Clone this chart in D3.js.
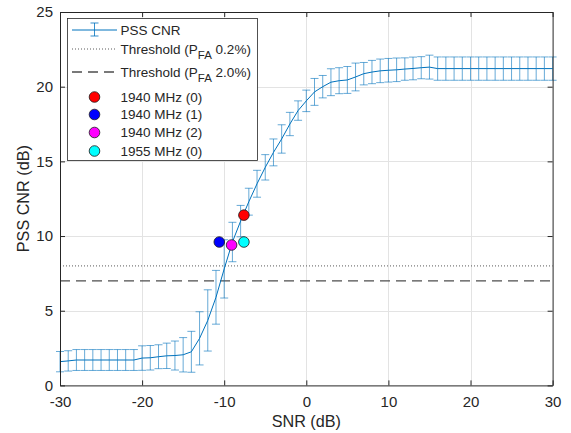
<!DOCTYPE html>
<html>
<head>
<meta charset="utf-8">
<script src="https://cdn.jsdelivr.net/npm/d3@7"></script>
<style>
  html, body { margin: 0; padding: 0; background: #ffffff; }
  svg { display: block; }
  text { font-family: "Liberation Sans", Arial, Helvetica, sans-serif; fill: #262626; }
</style>
</head>
<body>
<svg id="chart" width="571" height="433"></svg>
<script>
// SNR sweep (dB) and PSS CNR statistics (mean and one-sided error-bar half-width, dB)
const snr = d3.range(-30, 31, 1);
const cnrMean = [
  1.59, 1.64, 1.70, 1.70, 1.70, 1.70, 1.70, 1.70, 1.70, 1.70,   // -30 .. -21
  1.83, 1.85, 1.92, 1.98, 2.00, 2.05, 2.25, 3.15, 4.35, 5.90,   // -20 .. -11
  7.80, 9.60, 11.00, 12.30, 13.50, 14.60, 15.60, 16.50, 17.50, 18.40, // -10 .. -1
  19.05, 19.65, 20.00, 20.30, 20.40, 20.45, 20.65, 20.87, 20.98, 21.06, // 0 .. 9
  21.10, 21.13, 21.18, 21.22, 21.27, 21.31, 21.21, 21.21, 21.21, 21.21, // 10 .. 19
  21.21, 21.21, 21.21, 21.21, 21.21, 21.21, 21.21, 21.21, 21.21, 21.21, // 20 .. 29
  21.21                                                                   // 30
];
const cnrErr = [
  0.68, 0.68, 0.70, 0.70, 0.70, 0.70, 0.70, 0.70, 0.70, 0.70,
  0.82, 0.82, 0.80, 0.85, 0.97, 1.15, 1.37, 1.78, 2.05, 1.80,
  1.95, 1.32, 1.05, 0.90, 0.90, 0.85, 0.90, 0.95, 0.78, 0.65,
  0.72, 0.90, 0.75, 0.90, 0.87, 0.90, 0.93, 0.75, 0.78, 0.79,
  0.79, 0.79, 0.75, 0.76, 0.74, 0.80, 0.78, 0.78, 0.78, 0.78,
  0.78, 0.78, 0.78, 0.78, 0.78, 0.78, 0.78, 0.78, 0.78, 0.78,
  0.78
];

// Detection thresholds (dB)
const thresholdLabels = ["0.2%", "2.0%"];
const thresholdValues = [8.0, 7.0];

// Measured captures
const captureNames = ["1940 MHz (0)", "1940 MHz (1)", "1940 MHz (2)", "1955 MHz (0)"];
const captureSnr = [-7.6, -10.6, -9.1, -7.6];
const captureCnr = [11.4, 9.6, 9.4, 9.6];

// Axis ticks
const xTicks = [-30, -20, -10, 0, 10, 20, 30];
const yTicks = [0, 5, 10, 15, 20, 25];

// ---- styling ----
const captureColor = { "1940 MHz (0)": "#ff0000", "1940 MHz (1)": "#0000ff",
                       "1940 MHz (2)": "#ff00ff", "1955 MHz (0)": "#00ffff" };
const lineColor = "#0072BD";
const axisColor = "#262626";

const svg = d3.select("#chart");
const pLeft = 60, pRight = 552.6, pTop = 12, pBottom = 385.4;

const x = d3.scaleLinear().domain([-30, 30]).range([pLeft, pRight]);
const y = d3.scaleLinear().domain([0, 25]).range([pBottom, pTop]);

// grid
const grid = svg.append("g").attr("stroke", "#e3e3e3").attr("stroke-width", 1);
grid.selectAll("line.gx").data(xTicks.slice(1, -1)).join("line")
  .attr("x1", d => Math.round(x(d)) + 0.5).attr("x2", d => Math.round(x(d)) + 0.5)
  .attr("y1", pTop).attr("y2", pBottom);
grid.selectAll("line.gy").data(yTicks.slice(1, -1)).join("line")
  .attr("y1", d => Math.round(y(d)) + 0.5).attr("y2", d => Math.round(y(d)) + 0.5)
  .attr("x1", pLeft).attr("x2", pRight);

// threshold lines
const thrStyle = [
  { stroke: "#5a5a5a", dash: "1,2", width: 1 },
  { stroke: "#4d4d4d", dash: "10,6", width: 1.4 }
];
svg.append("g").selectAll("line").data(thresholdValues).join("line")
  .attr("x1", pLeft).attr("x2", pRight)
  .attr("y1", d => y(d)).attr("y2", d => y(d))
  .attr("stroke", (d, i) => thrStyle[i].stroke)
  .attr("stroke-width", (d, i) => thrStyle[i].width)
  .attr("stroke-dasharray", (d, i) => thrStyle[i].dash);

// error bars
const pts = snr.map((s, i) => ({ s, m: cnrMean[i], e: cnrErr[i] }));
const eb = svg.append("g").attr("stroke", lineColor).attr("stroke-opacity", 0.6).attr("stroke-width", 1);
const capW = 4;
eb.selectAll("line.v").data(pts).join("line")
  .attr("x1", d => x(d.s)).attr("x2", d => x(d.s))
  .attr("y1", d => y(d.m - d.e)).attr("y2", d => y(d.m + d.e));
eb.selectAll("line.t").data(pts).join("line")
  .attr("x1", d => x(d.s) - capW).attr("x2", d => x(d.s) + capW)
  .attr("y1", d => y(d.m + d.e)).attr("y2", d => y(d.m + d.e));
eb.selectAll("line.b").data(pts).join("line")
  .attr("x1", d => x(d.s) - capW).attr("x2", d => x(d.s) + capW)
  .attr("y1", d => y(d.m - d.e)).attr("y2", d => y(d.m - d.e));

// mean line
svg.append("path").datum(pts)
  .attr("fill", "none").attr("stroke", lineColor).attr("stroke-width", 1)
  .attr("d", d3.line().x(d => x(d.s)).y(d => y(d.m)));

// capture markers
const caps = captureNames.map((n, i) => ({ n, s: captureSnr[i], c: captureCnr[i] }));
svg.append("g").selectAll("circle").data(caps).join("circle")
  .attr("cx", d => x(d.s)).attr("cy", d => y(d.c)).attr("r", 5.3)
  .attr("fill", d => captureColor[d.n]).attr("stroke", "#1a1a1a").attr("stroke-width", 0.8);

// axes
const fs = 15;
const gx = svg.append("g").attr("transform", `translate(0,${pBottom})`)
  .call(d3.axisBottom(x).tickValues(xTicks).tickSizeInner(-5).tickSizeOuter(0).tickPadding(11));
const gy = svg.append("g").attr("transform", `translate(${pLeft},0)`)
  .call(d3.axisLeft(y).tickValues(yTicks).tickSizeInner(-5).tickSizeOuter(0).tickPadding(7));
const gt = svg.append("g").attr("transform", `translate(0,${pTop})`)
  .call(d3.axisTop(x).tickValues(xTicks).tickSizeInner(-5).tickSizeOuter(0).tickFormat(""));
const gr = svg.append("g").attr("transform", `translate(${pRight},0)`)
  .call(d3.axisRight(y).tickValues(yTicks).tickSizeInner(-5).tickSizeOuter(0).tickFormat(""));
[gx, gy, gt, gr].forEach(g => {
  g.select(".domain").attr("stroke", axisColor).attr("stroke-width", 1);
  g.selectAll(".tick line").attr("stroke", axisColor);
  g.selectAll(".tick text").attr("fill", axisColor).style("font-size", fs + "px")
    .style("font-family", '"Liberation Sans", Arial, sans-serif');
});
gx.selectAll(".tick text").text(d => d < 0 ? "-" + Math.abs(d) : d);

// axis labels
svg.append("text").attr("x", (pLeft + pRight) / 2).attr("y", 427)
  .attr("text-anchor", "middle").style("font-size", "16.2px").text("SNR (dB)");
svg.append("text").attr("transform", `translate(29,${(pTop + pBottom) / 2}) rotate(-90)`)
  .attr("text-anchor", "middle").style("font-size", "16.2px").text("PSS CNR (dB)");

// legend
const lg = svg.append("g");
lg.append("rect").attr("x", 67.5).attr("y", 18.5).attr("width", 190).attr("height", 142)
  .attr("fill", "#ffffff").attr("stroke", axisColor).attr("stroke-width", 0.8);
const lfs = "13.5px";
const lx0 = 72, lx1 = 117, lxm = 94.5, tx = 120.5;
// PSS CNR entry
const r0 = 30;
lg.append("line").attr("x1", lx0).attr("x2", lx1).attr("y1", r0).attr("y2", r0)
  .attr("stroke", lineColor).attr("stroke-width", 1);
const lgEb = lg.append("g").attr("stroke", lineColor).attr("stroke-opacity", 0.8);
lgEb.append("line").attr("x1", lxm).attr("x2", lxm).attr("y1", r0 - 7).attr("y2", r0 + 6);
lgEb.append("line").attr("x1", lxm - 4).attr("x2", lxm + 4).attr("y1", r0 - 7).attr("y2", r0 - 7);
lgEb.append("line").attr("x1", lxm - 4).attr("x2", lxm + 4).attr("y1", r0 + 6).attr("y2", r0 + 6);
lg.append("text").attr("x", tx).attr("y", r0).attr("dy", "0.35em").style("font-size", lfs).text("PSS CNR");
// threshold entries
const thrRows = [49, 72];
thresholdLabels.forEach((lab, i) => {
  const ry = thrRows[i];
  lg.append("line").attr("x1", lx0).attr("x2", lx1).attr("y1", ry).attr("y2", ry)
    .attr("stroke", thrStyle[i].stroke).attr("stroke-width", thrStyle[i].width)
    .attr("stroke-dasharray", thrStyle[i].dash);
  const t = lg.append("text").attr("x", tx).attr("y", ry).attr("dy", "0.35em").style("font-size", lfs);
  t.append("tspan").text("Threshold (P");
  t.append("tspan").attr("dy", "5").style("font-size", "11.5px").text("FA");
  t.append("tspan").attr("dy", "-5").text(" " + lab + ")");
});
// capture entries
const capRows = [97, 114.5, 132.5, 151];
caps.forEach((d, i) => {
  lg.append("circle").attr("cx", lxm).attr("cy", capRows[i]).attr("r", 5.3)
    .attr("fill", captureColor[d.n]).attr("stroke", "#1a1a1a").attr("stroke-width", 0.8);
  lg.append("text").attr("x", tx).attr("y", capRows[i]).attr("dy", "0.35em")
    .style("font-size", lfs).text(d.n);
});
</script>
</body>
</html>
